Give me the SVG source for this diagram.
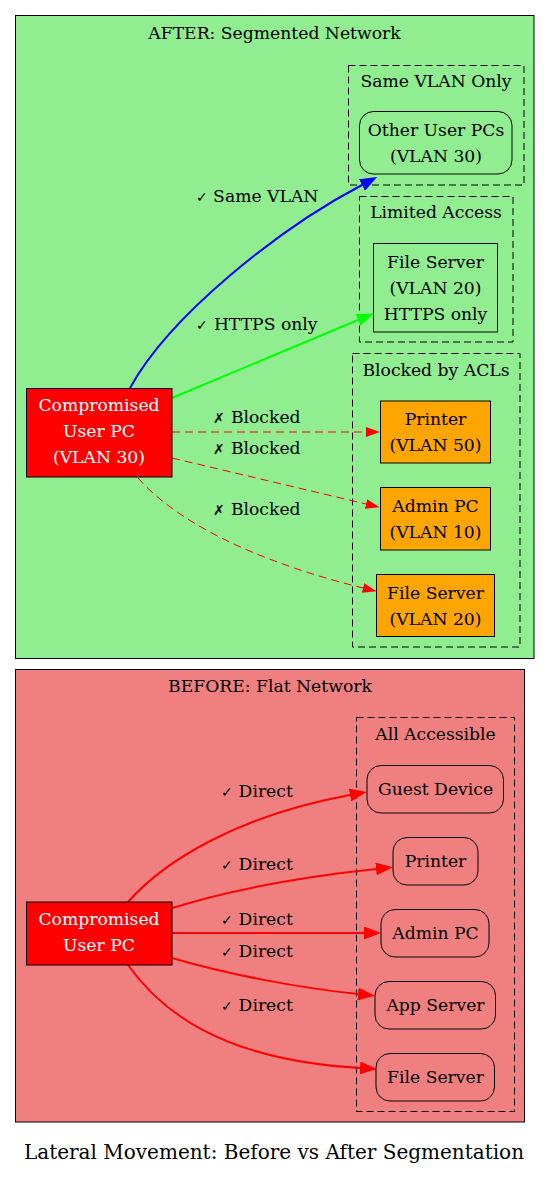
<svg xmlns="http://www.w3.org/2000/svg" width="549" height="1179" viewBox="0 0 549 1179">
<style>
text{font-family:"DejaVu Serif","Liberation Serif",serif;font-size:17.2px;fill:#000;text-anchor:middle}
.title{font-size:20px}
.white{fill:#fff}
.sym{font-size:14px;font-family:"DejaVu Sans","Liberation Sans",sans-serif;font-weight:300}
.cl{stroke:#000;stroke-width:1}
.sub{fill:none;stroke:#000;stroke-width:1;stroke-dasharray:7,4}
.nd{stroke:#000;stroke-width:1}
.plain{fill:none}
.orange{fill:#ffa500}
.red{fill:#ff0000}
.e{fill:none;stroke-width:2}
.ed{fill:none;stroke:#ff0000;stroke-width:1;stroke-dasharray:8,5}
</style>
<defs>
<marker id="aRed" markerUnits="userSpaceOnUse" viewBox="0 0 17 13" markerWidth="17" markerHeight="13" refX="0" refY="6.5" orient="auto"><path d="M0,0 L17,6.5 L0,13 Z" fill="#ff0000"/></marker>
<marker id="aBlue" markerUnits="userSpaceOnUse" viewBox="0 0 17 13" markerWidth="17" markerHeight="13" refX="0" refY="6.5" orient="auto"><path d="M0,0 L17,6.5 L0,13 Z" fill="#0000ff"/></marker>
<marker id="aGreen" markerUnits="userSpaceOnUse" viewBox="0 0 17 13" markerWidth="17" markerHeight="13" refX="0" refY="6.5" orient="auto"><path d="M0,0 L17,6.5 L0,13 Z" fill="#00ff00"/></marker>
<marker id="aRedS" markerUnits="userSpaceOnUse" viewBox="0 0 14 10" markerWidth="14" markerHeight="10" refX="0" refY="5" orient="auto"><path d="M0,0 L14,5 L0,10 Z" fill="#ff0000"/></marker>
</defs>
<rect width="549" height="1179" fill="#fff"/>

<g id="cluster_after">
<rect class="cl" x="15.5" y="15.5" width="518.5" height="643" fill="#90ee90"/>
<text x="274.5" y="39">AFTER: Segmented Network</text>
</g>
<g id="cluster_same_vlan">
<rect class="sub" x="348.5" y="65.5" width="175.5" height="119.5"/>
<text x="436" y="87">Same VLAN Only</text>
</g>
<g id="cluster_limited">
<rect class="sub" x="359.5" y="196.5" width="153.5" height="145.5"/>
<text x="436" y="218">Limited Access</text>
</g>
<g id="cluster_blocked">
<rect class="sub" x="352.5" y="353.5" width="167.5" height="293.5"/>
<text x="436" y="376">Blocked by ACLs</text>
</g>

<g id="cluster_before">
<rect class="cl" x="15.5" y="669.5" width="509" height="452.5" fill="#f08080"/>
<text x="270" y="692">BEFORE: Flat Network</text>
</g>
<g id="cluster_all">
<rect class="sub" x="356.5" y="717.5" width="158" height="394"/>
<text x="435.5" y="740">All Accessible</text>
</g>

<g id="edges">
<path class="e" stroke="#0000ff" d="M130,388 C170,315 280,228 362,185" marker-end="url(#aBlue)"/>
<text x="257" y="202"><tspan class="sym">✓</tspan> Same VLAN</text>
<path class="e" stroke="#00ff00" d="M172,398 L358,320" marker-end="url(#aGreen)"/>
<text x="257" y="330"><tspan class="sym">✓</tspan> HTTPS only</text>
<path class="ed" d="M172,432 L366,432" marker-end="url(#aRedS)"/>
<text x="257" y="423"><tspan class="sym">✗</tspan> Blocked</text>
<path class="ed" d="M172,458 L366,504" marker-end="url(#aRedS)"/>
<text x="257" y="454"><tspan class="sym">✗</tspan> Blocked</text>
<path class="ed" d="M138,478 C175,520 250,560 363,588" marker-end="url(#aRedS)"/>
<text x="257" y="515"><tspan class="sym">✗</tspan> Blocked</text>

<path class="e" stroke="#ff0000" d="M128,902 C165,860 240,815 350,795" marker-end="url(#aRed)"/>
<text x="257" y="797"><tspan class="sym">✓</tspan> Direct</text>
<path class="e" stroke="#ff0000" d="M172,908 C230,890 300,877 376,869" marker-end="url(#aRed)"/>
<text x="257" y="870"><tspan class="sym">✓</tspan> Direct</text>
<path class="e" stroke="#ff0000" d="M172,933 L364,933" marker-end="url(#aRed)"/>
<text x="257" y="925"><tspan class="sym">✓</tspan> Direct</text>
<path class="e" stroke="#ff0000" d="M172,958 C230,975 300,988 358,994" marker-end="url(#aRed)"/>
<text x="257" y="957"><tspan class="sym">✓</tspan> Direct</text>
<path class="e" stroke="#ff0000" d="M128,965 C160,1010 220,1060 360,1068" marker-end="url(#aRed)"/>
<text x="257" y="1011"><tspan class="sym">✓</tspan> Direct</text>
</g>

<g id="after_compromised">
<rect class="nd red" x="26.5" y="388.5" width="145.5" height="88.5"/>
<text class="white" x="99" y="411">Compromised</text>
<text class="white" x="99" y="437">User PC</text>
<text class="white" x="99" y="463">(VLAN 30)</text>
</g>
<g id="after_other_pcs">
<rect class="nd plain" x="359.5" y="111.5" width="152.5" height="62.5" rx="14"/>
<text x="436" y="136">Other User PCs</text>
<text x="436" y="162">(VLAN 30)</text>
</g>
<g id="after_file_https">
<rect class="nd plain" x="373.5" y="243.5" width="124" height="88.5"/>
<text x="435.5" y="268">File Server</text>
<text x="435.5" y="294">(VLAN 20)</text>
<text x="435.5" y="320">HTTPS only</text>
</g>
<g id="after_printer">
<rect class="nd orange" x="380.5" y="401" width="110" height="62"/>
<text x="435.5" y="425">Printer</text>
<text x="435.5" y="451">(VLAN 50)</text>
</g>
<g id="after_admin">
<rect class="nd orange" x="380.5" y="487.5" width="110" height="62.5"/>
<text x="435.5" y="512">Admin PC</text>
<text x="435.5" y="538">(VLAN 10)</text>
</g>
<g id="after_file_blocked">
<rect class="nd orange" x="376.5" y="574.5" width="118" height="62"/>
<text x="435.5" y="599">File Server</text>
<text x="435.5" y="625">(VLAN 20)</text>
</g>

<g id="before_compromised">
<rect class="nd red" x="26.5" y="902" width="145.5" height="63"/>
<text class="white" x="99" y="925">Compromised</text>
<text class="white" x="99" y="951">User PC</text>
</g>
<g id="before_guest">
<rect class="nd plain" x="367" y="765.5" width="136.5" height="47.5" rx="14"/>
<text x="435.5" y="795">Guest Device</text>
</g>
<g id="before_printer">
<rect class="nd plain" x="393" y="837.5" width="85" height="47.5" rx="14"/>
<text x="435.5" y="867">Printer</text>
</g>
<g id="before_admin">
<rect class="nd plain" x="381" y="909.5" width="108" height="47.5" rx="14"/>
<text x="435.5" y="939">Admin PC</text>
</g>
<g id="before_app">
<rect class="nd plain" x="375" y="981.5" width="120.5" height="47.5" rx="14"/>
<text x="435.5" y="1011">App Server</text>
</g>
<g id="before_file">
<rect class="nd plain" x="376" y="1053.5" width="118.5" height="47.5" rx="14"/>
<text x="435.5" y="1083">File Server</text>
</g>

<text class="title" x="274" y="1159">Lateral Movement: Before vs After Segmentation</text>
</svg>
